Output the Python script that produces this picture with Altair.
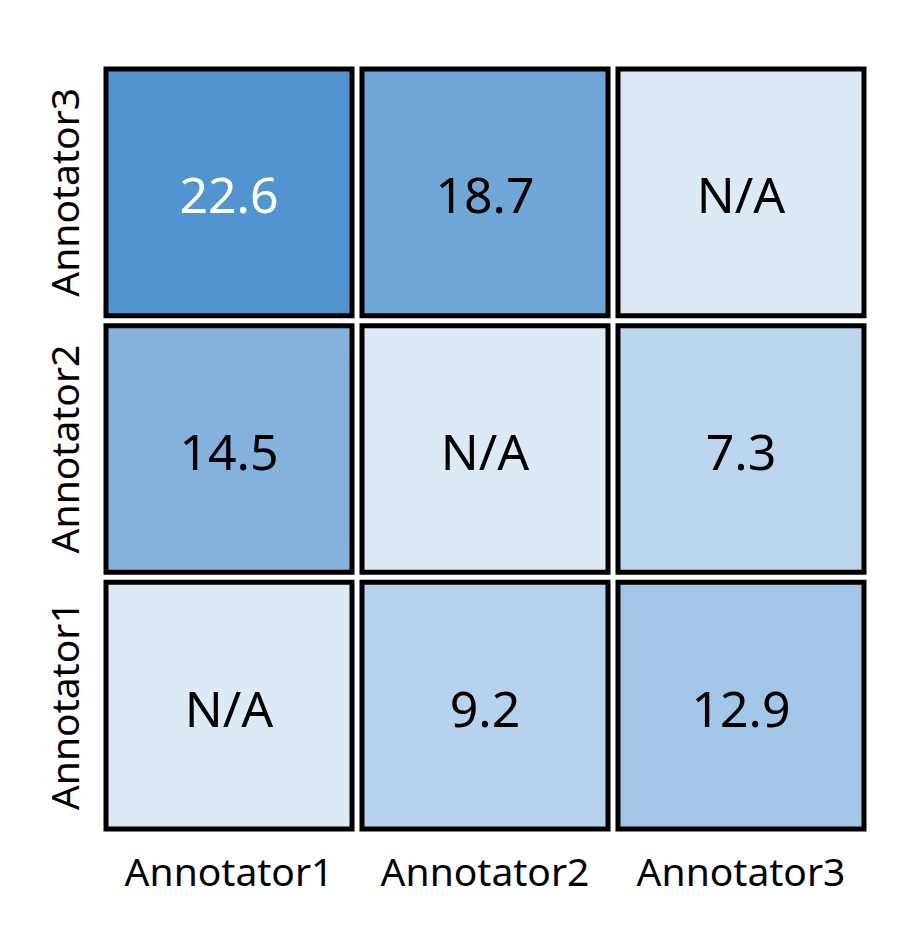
import altair as alt
import pandas as pd

annotators = ["Annotator1", "Annotator2", "Annotator3"]
x_cat = ["Annotator1", "Annotator2", "Annotator3",
         "Annotator1", "Annotator2", "Annotator3",
         "Annotator1", "Annotator2", "Annotator3"]
y_cat = ["Annotator3", "Annotator3", "Annotator3",
         "Annotator2", "Annotator2", "Annotator2",
         "Annotator1", "Annotator1", "Annotator1"]
values = [22.6, 18.7, None,
          14.5, None, 7.3,
          None, 9.2, 12.9]

color_domain = [0, 7.3, 9.2, 12.9, 14.5, 18.7, 22.6]
color_range = ["#dde9f5", "#bcd6ee", "#b6d2ec", "#a2c6e6", "#84b2dd", "#6fa7d9", "#5294cf"]

df = pd.DataFrame({"x": x_cat, "y": y_cat, "value": values})
df["label"] = [("N/A" if v is None or pd.isna(v) else f"{v:.1f}") for v in df["value"]]
df["shade"] = df["value"].fillna(0)

xs = alt.Scale(domain=annotators, paddingInner=0.039, paddingOuter=0)
ys = alt.Scale(domain=annotators[::-1], paddingInner=0.039, paddingOuter=0)

base = alt.Chart(df).encode(
    x=alt.X("x:N", scale=xs, sort=annotators,
            axis=alt.Axis(title=None, labelAngle=0, domain=False, ticks=False,
                          labelFontSize=39, labelFont="Noto Sans", labelColor="black",
                          labelPadding=25, labelLimit=400)),
    y=alt.Y("y:N", scale=ys, sort=annotators[::-1],
            axis=alt.Axis(title=None, labelAngle=-90, labelAlign="center",
                          labelBaseline="bottom", domain=False, ticks=False,
                          labelFontSize=39, labelFont="Noto Sans", labelColor="black",
                          labelPadding=20, labelLimit=400)),
)

rects = base.mark_rect(stroke="black", strokeWidth=5).encode(
    color=alt.Color("shade:Q", scale=alt.Scale(domain=color_domain, range=color_range), legend=None)
)

texts = base.mark_text(font="Noto Sans", fontSize=50, dy=6).encode(
    text="label:N",
    color=alt.condition("datum.value > 20", alt.value("white"), alt.value("black")),
)

chart = (rects + texts).properties(
    width=758, height=760,
    padding={"left": 98, "top": 61, "right": 20, "bottom": 90},
    autosize=alt.AutoSizeParams(type="none"),
).configure_view(stroke=None).configure_axis(grid=False)

chart.save("out.html", embed_options={"renderer": "svg", "actions": False})
